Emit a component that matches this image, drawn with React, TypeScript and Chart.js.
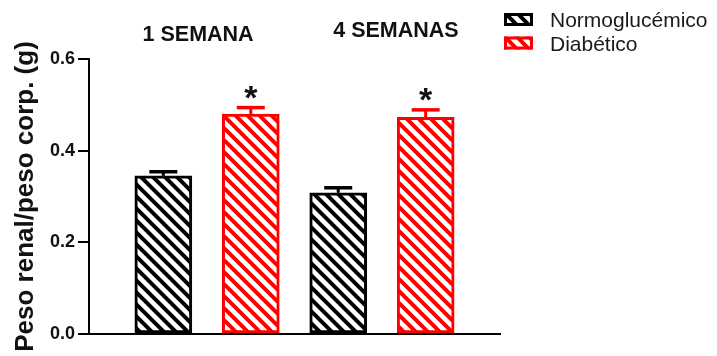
import React, { useEffect, useRef } from "react";
import { Chart, registerables } from "chart.js";

Chart.register(...registerables);

// ---- data ----
const groups = ["1 SEMANA", "4 SEMANAS"];
const seriesNames = ["Normoglucémico", "Diabético"];
const normoMean = [0.345, 0.308];
const normoSem = [0.009, 0.011];
const diabMean = [0.48, 0.473];
const diabSem = [0.014, 0.016];
const normoSignificant = [false, false];
const diabSignificant = [true, true];
const yTickValues = [0, 0.2, 0.4, 0.6];
const yAxisTitle = "Peso renal/peso corp. (g)";

// ---- styles ----
const seriesColors = ["#000000", "#ff0000"];
const FAMILY = "'Liberation Sans', Arial, Helvetica, sans-serif";

const means = [normoMean, diabMean];
const sems = [normoSem, diabSem];
const signif = [normoSignificant, diabSignificant];

function makeHatch(color: string): CanvasPattern {
  const size = 12;
  const c = document.createElement("canvas");
  c.width = size;
  c.height = size;
  const ctx = c.getContext("2d")!;
  ctx.fillStyle = "#ffffff";
  ctx.fillRect(0, 0, size, size);
  ctx.strokeStyle = color;
  ctx.lineWidth = 4;
  ctx.beginPath();
  for (const o of [-size, 0, size]) {
    ctx.moveTo(o - 3, -3);
    ctx.lineTo(o + size + 3, size + 3);
  }
  ctx.stroke();
  return ctx.createPattern(c, "repeat")!;
}

export default function App() {
  const ref = useRef<HTMLCanvasElement | null>(null);

  useEffect(() => {
    const canvas = ref.current;
    if (!canvas) return;
    const hatches = seriesColors.map((c) => makeHatch(c));

    const decorPlugin = {
      id: "decor",
      afterDatasetsDraw(chart: any) {
        const { ctx } = chart;
        const xs = chart.scales.x;
        const ys = chart.scales.y;
        ctx.save();
        // error bars + asterisks
        seriesNames.forEach((_, s) => {
          groups.forEach((__, g) => {
            const xv = g * 2 + s + 1;
            const px = xs.getPixelForValue(xv);
            const top = ys.getPixelForValue(means[s][g]);
            const errTop = ys.getPixelForValue(means[s][g] + sems[s][g]);
            ctx.strokeStyle = seriesColors[s];
            ctx.lineCap = "butt";
            ctx.lineWidth = 3;
            ctx.beginPath();
            ctx.moveTo(px, top);
            ctx.lineTo(px, errTop);
            ctx.stroke();
            ctx.lineWidth = 3.5;
            ctx.beginPath();
            ctx.moveTo(px - 14, errTop);
            ctx.lineTo(px + 14, errTop);
            ctx.stroke();
            if (signif[s][g]) {
              ctx.fillStyle = "#111111";
              ctx.font = `bold 34px ${FAMILY}`;
              ctx.textAlign = "center";
              ctx.textBaseline = "alphabetic";
              ctx.fillText("*", px, errTop + 1);
            }
          });
        });
        ctx.restore();
      },
      afterDraw(chart: any) {
        const { ctx, chartArea } = chart;
        const xs = chart.scales.x;
        ctx.save();
        // group titles
        const nudgeX = [-9, 14];
        const nudgeY = [0, -4];
        ctx.fillStyle = "#111111";
        ctx.font = `bold 21.5px ${FAMILY}`;
        ctx.textAlign = "center";
        ctx.textBaseline = "alphabetic";
        groups.forEach((name, g) => {
          const cx = xs.getPixelForValue(g * 2 + 1.5);
          ctx.fillText(name, cx + nudgeX[g], chartArea.top - 18 + nudgeY[g]);
        });
        // legend
        ctx.font = `21px ${FAMILY}`;
        ctx.textAlign = "left";
        seriesNames.forEach((name, i) => {
          const bx = 504;
          const by = 13 + i * 23.5;
          const bw = 29;
          const bh = 13;
          ctx.fillStyle = hatches[i];
          ctx.fillRect(bx, by, bw, bh);
          ctx.strokeStyle = seriesColors[i];
          ctx.lineWidth = 3;
          ctx.strokeRect(bx + 1.5, by + 1.5, bw - 3, bh - 3);
          ctx.fillStyle = "#1a1a1a";
          ctx.fillText(name, 550, by + 14);
        });
        ctx.restore();
      },
    };

    const chart = new Chart(canvas, {
      type: "bar",
      data: {
        datasets: seriesNames.map((name, s) => ({
          label: name,
          data: groups.map((_, g) => ({ x: g * 2 + s + 1, y: means[s][g] })),
          backgroundColor: hatches[s],
          borderColor: seriesColors[s],
          borderWidth: 3,
          borderSkipped: false,
          barThickness: 57,
          grouped: false,
        })),
      },
      options: {
        animation: false,
        responsive: false,
        devicePixelRatio: 1,
        layout: { padding: { left: 9, right: 217, top: 59, bottom: 22 } },
        plugins: {
          legend: { display: false },
          tooltip: { enabled: false },
        },
        scales: {
          x: {
            type: "linear",
            offset: false,
            min: 0.15,
            max: 4.85,
            ticks: { display: false },
            grid: { display: false, drawTicks: false, offset: false },
            border: { display: true, color: "#000000", width: 2 },
          },
          y: {
            min: 0,
            max: 0.6,
            afterBuildTicks: (scale: any) => {
              scale.ticks = yTickValues.map((v) => ({ value: v }));
            },
            ticks: {
              callback: (v: any) => Number(v).toFixed(1),
              font: { family: FAMILY, size: 18, weight: "bold" },
              color: "#111111",
              padding: 3,
            },
            grid: {
              display: true,
              drawOnChartArea: false,
              drawTicks: true,
              tickLength: 11,
              color: "#000000",
              lineWidth: 2,
            },
            border: { display: true, color: "#000000", width: 2 },
            title: {
              display: true,
              text: yAxisTitle,
              color: "#111111",
              font: { family: FAMILY, size: 26, weight: "bold", lineHeight: 1 },
              padding: { top: 4, bottom: 8 },
            },
          },
        },
      },
      plugins: [decorPlugin],
    } as any);

    return () => chart.destroy();
  }, []);

  return (
    <div style={{ position: "absolute", left: 0, top: 0, width: 717, height: 356 }}>
      <canvas ref={ref} width={717} height={356} style={{ display: "block" }} />
    </div>
  );
}
